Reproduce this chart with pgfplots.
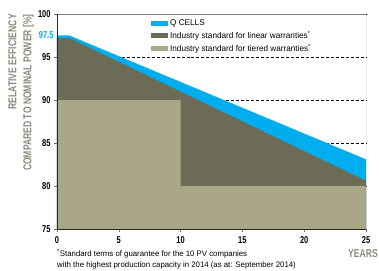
\documentclass[border=0pt]{standalone}
\usepackage{pgfplots}
\pgfplotsset{compat=1.18}
\usepackage{fontspec}
\setmainfont{Liberation Sans}
\newfontfamily\cond[FakeStretch=0.75]{Liberation Sans}
\newfontfamily\semi[FakeStretch=0.98]{Liberation Sans}
\definecolor{qblue}{HTML}{00AEEF}
\definecolor{darkol}{HTML}{6B6B56}
\definecolor{tier}{HTML}{A9A786}
\definecolor{lab}{HTML}{8A8A7C}
\begin{document}
\begin{tikzpicture}[x=1bp,y=1bp]
\begin{axis}[
  at={(0,0)}, anchor=south west,
  scale only axis, width=309bp, height=215bp,
  xmin=0, xmax=25, ymin=75, ymax=100,
  xtick={0,5,...,25}, ytick={75,80,...,100},
  xtick pos=bottom, ytick pos=left,
  tick align=outside, major tick length=3bp,
  tick style={draw=black!55, line width=0.6pt},
  axis line style={draw=none},
  ymajorgrids,
  grid style={black, line width=0.5pt, dash pattern=on 3pt off 2pt},
  /pgf/number format/assume math mode=true,
  tick label style={font=\cond\bfseries\fontsize{10}{11}\selectfont},
  xticklabel style={yshift=-1bp},
  extra y ticks={97.5},
  extra y tick style={grid=none, major tick length=0pt, yticklabel style={text=qblue}, /pgf/number format/.cd, fixed, precision=1},
  legend style={draw=none, fill=none, at={(axis cs:7.6,99.6)}, anchor=north west,
    font=\semi\fontsize{8.4}{9}\selectfont, row sep=0.5bp, inner sep=0pt,
    /tikz/every even column/.append style={column sep=4bp}},
  legend cell align=left,
  legend image code/.code={\fill[#1] (0bp,-2.2bp) rectangle (17bp,2.2bp);},
]
\addplot[fill=qblue, draw=none] coordinates {(0,97.5) (1,97.5) (25,83.1)} \closedcycle;
\addlegendentry{Q CELLS}
\addplot[fill=darkol, draw=none] coordinates {(0,97.2) (1,97.2) (25,80.6)} \closedcycle;
\addlegendentry{Industry standard for linear warranties\textsuperscript{*}}
\addplot[fill=tier, draw=none] coordinates {(0,90) (10,90) (10,80) (25,80)} \closedcycle;
\addlegendentry{Industry standard for tiered warranties\textsuperscript{*}}
\draw[black!50, line width=0.8pt] (rel axis cs:0,1) -- (rel axis cs:1,1) -- (rel axis cs:1,0);
\draw[black!85, line width=0.9pt] (rel axis cs:0,1) -- (rel axis cs:0,0) -- (rel axis cs:1,0);
\end{axis}
\node[rotate=90, anchor=east, align=right, inner sep=0pt, text=lab,
  font=\cond\bfseries\fontsize{11.5}{15}\selectfont] at (-36,215) {RELATIVE EFFICIENCY\\COMPARED TO NOMINAL POWER [\%]};
\node[anchor=east, inner sep=0pt, text=lab, font=\cond\bfseries\fontsize{11.5}{13}\selectfont] at (321,-25) {YEARS};
\node[anchor=north west, align=left, inner sep=0pt, font=\semi\fontsize{8}{11.5}\selectfont] at (0,-20)
  {\textsuperscript{*}Standard terms of guarantee for the 10 PV companies\\with the highest production capacity in 2014 (as at: September 2014)};
\path[use as bounding box] (-57,-42) rectangle (322,229);
\end{tikzpicture}
\end{document}
